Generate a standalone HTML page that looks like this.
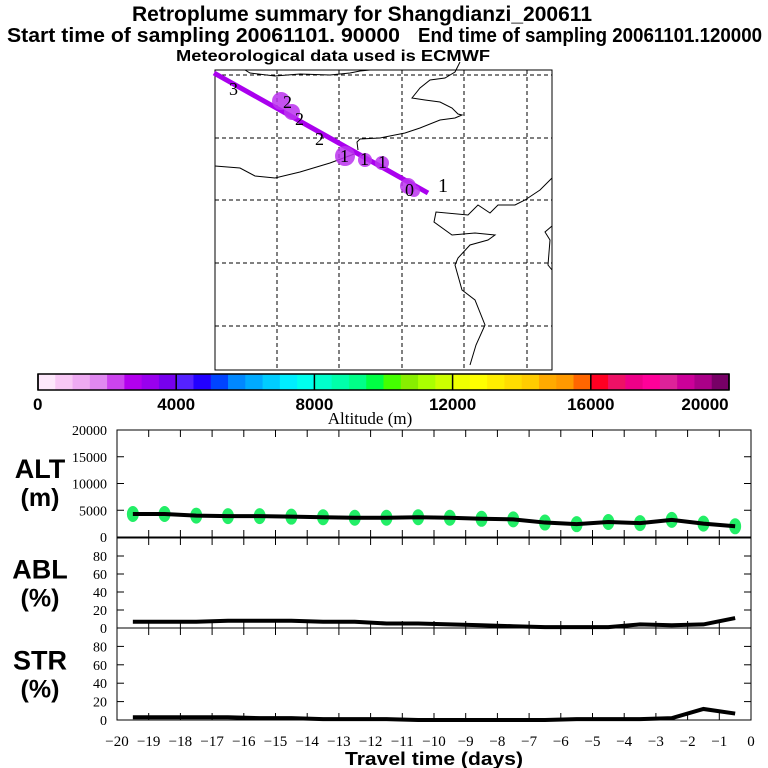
<!DOCTYPE html>
<html><head><meta charset="utf-8"><style>body{margin:0;background:#fff}svg{display:block}text{font-family:"Liberation Sans",sans-serif}</style></head>
<body>
<svg id="c" width="768" height="768" xmlns="http://www.w3.org/2000/svg">
<text x="362" y="21" font-size="21" font-weight="bold" text-anchor="middle" textLength="460" lengthAdjust="spacingAndGlyphs">Retroplume summary for Shangdianzi_200611</text>
<text x="7" y="42" font-size="20" font-weight="bold" textLength="393" lengthAdjust="spacingAndGlyphs">Start time of sampling 20061101. 90000</text>
<text x="418" y="42" font-size="20" font-weight="bold" textLength="344" lengthAdjust="spacingAndGlyphs">End time of sampling 20061101.120000</text>
<text x="333" y="61" font-size="16" font-weight="bold" text-anchor="middle" textLength="314" lengthAdjust="spacingAndGlyphs">Meteorological data used is ECMWF</text>
<g id="map"></g>
<g id="cbar"></g>
<text x="370" y="424" font-size="17" text-anchor="middle" style="font-family:'Liberation Serif',serif">Altitude (m)</text>
<g id="panels"></g>
<text x="434" y="765" font-size="18" font-weight="bold" text-anchor="middle" textLength="178" lengthAdjust="spacingAndGlyphs">Travel time (days)</text>
</svg>
<script>
const days=[-19.5,-18.5,-17.5,-16.5,-15.5,-14.5,-13.5,-12.5,-11.5,-10.5,-9.5,-8.5,-7.5,-6.5,-5.5,-4.5,-3.5,-2.5,-1.5,-0.5];
const altValues=[4300,4300,4000,3900,3900,3800,3700,3600,3600,3700,3600,3400,3300,2700,2400,2800,2600,3200,2500,2000];
const ablValues=[7,7,7,8,8,8,7,7,5,5,4,3,2,1,1,1,4,3,4,11];
const strValues=[3,3,3,3,2,2,1,1,1,0,0,0,0,0,1,1,1,2,12,7];
const altTicks=[0,5000,10000,15000,20000];
const pctTicks=[0,20,40,60,80];
const xTicks=[-20,-19,-18,-17,-16,-15,-14,-13,-12,-11,-10,-9,-8,-7,-6,-5,-4,-3,-2,-1,0];
const cbarTicks=[0,4000,8000,12000,16000,20000];
const cbarColors=["#fde8fb","#f8c8f5","#eeaaf2","#e088f0","#cc44ee","#b300ee","#9900ee","#7700ee","#5522ff","#2200ff","#0044ff","#0088ff","#00aaff","#00ccff","#00eeff","#00ffee","#00ffcc","#00ffaa","#00ff88","#00ff44","#44ff00","#88ee00","#aaff00","#ccff00","#eeff00","#ffff00","#ffee00","#ffdd00","#ffcc00","#ffaa00","#ff9900","#ff6600","#ff0022","#ee1166","#ee0088","#ff0099","#dd2299","#cc0099","#aa0088","#770066"];
const NS="http://www.w3.org/2000/svg";
function mk(p,t,a){const e=document.createElementNS(NS,t);for(const k in a)e.setAttribute(k,a[k]);p.appendChild(e);return e;}
const X=d=>117+(d+20)*(751-117)/20;
const map=document.getElementById('map');
let r=mk(map,'rect',{x:215,y:70,width:337,height:300,fill:'none',stroke:'#000','stroke-width':1});


[277,339,402,464,527].forEach(x=>{const l=mk(map,'line',{x1:x,y1:70,x2:x,y2:370,stroke:'#000','stroke-dasharray':'4,3'});});
[75,138,200,263,326].forEach(y=>{const l=mk(map,'line',{x1:215,y1:y,x2:552,y2:y,stroke:'#000','stroke-dasharray':'4,3'});});
const coasts=["M245,70 L250,73 L275,76 L300,74 L330,75 L350,73 L360,71 L370,70","M460,62 L455,72 L445,78 L430,80 L420,88 L412,98 L425,100 L440,102 L452,108 L458,114 L462,115 L455,118 L440,120 L420,128 L405,133 L380,138 L360,139 L357,142 L358,150","M215,166 L240,168 L255,176 L275,178 L300,172 L330,163 L357,153","M552,178 L540,190 L525,200 L515,205 L498,205 L490,213 L478,205 L468,215 L436,212 L434,222 L452,235 L475,233 L495,235 L488,240 L470,245 L458,258 L455,265 L462,290 L475,300 L485,325 L476,345 L470,365","M552,226 L545,232 L550,240 L548,265 L552,270"];
coasts.forEach(d=>{const p=mk(map,'path',{d:d,fill:'none',stroke:'#000','stroke-width':1});});
let tl=mk(map,'line',{x1:214,y1:73,x2:428,y2:193,stroke:'#aa00ee','stroke-width':5});


[[281,101,9],[292,112,8],[345,156,10],[365,160,7],[382,163,7],[408,186,8],[414,191,6]].forEach(c=>{const e=mk(map,'circle',{cx:c[0],cy:c[1],r:c[2],fill:'#bb33ee',opacity:0.85});});
[["3",229,95],["2",283,108],["2",295,125],["2",315,145],["1",340,162],["1",360,165],["1",378,168],["0",405,196],["1",438,192]].forEach(t=>{const e=mk(map,'text',{x:t[1],y:t[2],'font-size':t[0]=='1'&&t[1]==438?20:18,style:"font-family:'Liberation Serif',serif"});e.textContent=t[0];});
const cb=document.getElementById('cbar');
const cx0=38,cx1=729,cw=(cx1-cx0)/cbarColors.length;
cbarColors.forEach((c,i)=>{const e=mk(cb,'rect',{x:cx0+i*cw,y:374,width:cw+0.5,height:16,fill:c});});
mk(cb,'rect',{x:cx0,y:374,width:cx1-cx0,height:16,fill:'none',stroke:'#000','stroke-width':1.5});
cbarTicks.forEach(v=>{const x=cx0+v/20000*(cx1-cx0);mk(cb,'line',{x1:x,y1:374,x2:x,y2:390,stroke:'#000','stroke-width':1.5});const t=mk(cb,'text',{x:v==20000?x-24:(v==0?x-5:x),y:410,'font-size':17,'font-weight':'bold','text-anchor':v==0?'start':'middle'});t.textContent=v;});
const pg=document.getElementById('panels');
function panel(top,bot,maxv,ticks,vals,name,lab1,lab2,isAlt){
  const Y=v=>bot-v/maxv*(bot-top);
  const f=mk(pg,'rect',{x:117,y:top,width:634,height:bot-top,fill:'none',stroke:'#000'});
  
  xTicks.forEach(d=>{mk(pg,'line',{x1:X(d),y1:top,x2:X(d),y2:top+7,stroke:'#000'});mk(pg,'line',{x1:X(d),y1:bot,x2:X(d),y2:bot-7,stroke:'#000'});});
  ticks.forEach(v=>{mk(pg,'line',{x1:117,y1:Y(v),x2:124,y2:Y(v),stroke:'#000'});mk(pg,'line',{x1:751,y1:Y(v),x2:744,y2:Y(v),stroke:'#000'});
    const t=mk(pg,'text',{x:107,y:Y(v)+5,'font-size':14,'text-anchor':'end',style:"font-family:'Liberation Serif',serif"});t.textContent=v;});
  if(isAlt){vals.forEach((v,i)=>{const e=mk(pg,'ellipse',{cx:X(days[i]),cy:Y(v),rx:6,ry:8,fill:'#22ee66'});});}
  const pts=vals.map((v,i)=>X(days[i])+','+Y(v)).join(' ');
  const l=mk(pg,'polyline',{points:pts,fill:'none',stroke:'#000','stroke-width':4});
  
  const a=mk(pg,'text',{x:40,y:top+(bot-top)*0.45,'font-size':27,'font-weight':'bold','text-anchor':'middle'});a.textContent=lab1;
  const b=mk(pg,'text',{x:40,y:top+(bot-top)*0.45+28,'font-size':25,'font-weight':'bold','text-anchor':'middle'});b.textContent=lab2;
}
panel(430,537,20000,altTicks,altValues,'alt','ALT','(m)',true);
panel(538,628,100,pctTicks,ablValues,'abl','ABL','(%)',false);
panel(628,720,100,pctTicks,strValues,'str','STR','(%)',false);
xTicks.forEach(d=>{const t=mk(pg,'text',{x:X(d),y:746,'font-size':15,'text-anchor':'middle',style:"font-family:'Liberation Serif',serif"});t.textContent=d==0?'0':'\u2212'+Math.abs(d);});
</script>
</body></html>
